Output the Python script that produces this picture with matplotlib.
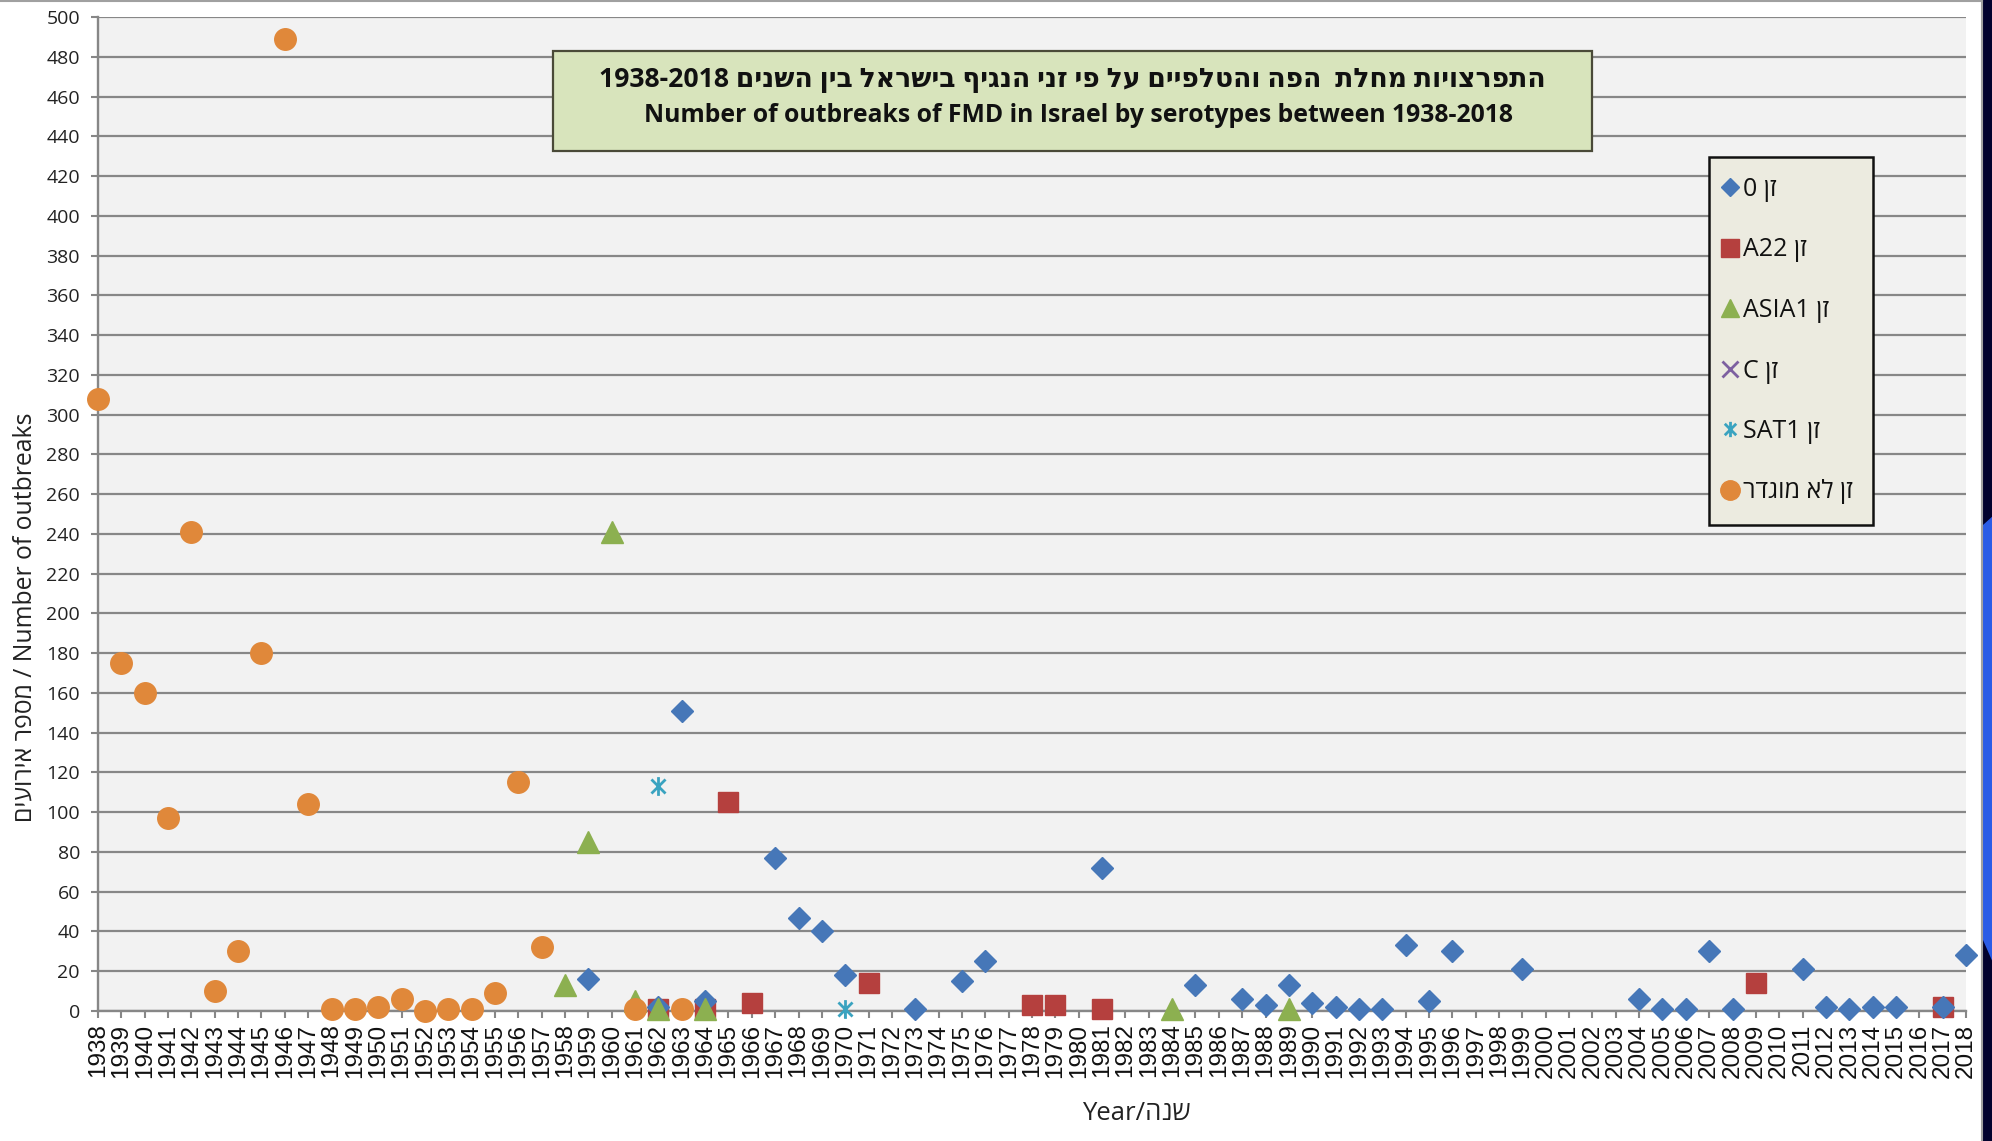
import matplotlib
matplotlib.use("Agg")
import matplotlib.pyplot as plt
from matplotlib.lines import Line2D
from matplotlib.patches import Rectangle, Polygon
from matplotlib.path import Path

# ---------------- data ----------------
years_axis = list(range(1938, 2019))

o_years = [1959, 1962, 1963, 1964, 1967, 1968, 1969, 1970, 1973, 1975, 1976, 1981, 1985,
           1987, 1988, 1989, 1990, 1991, 1992, 1993, 1994, 1995, 1996, 1999, 2004, 2005,
           2006, 2007, 2008, 2011, 2012, 2013, 2014, 2015, 2017, 2018]
o_vals = [16, 2, 151, 5, 77, 47, 40, 18, 1, 15, 25, 72, 13,
          6, 3, 13, 4, 2, 1, 1, 33, 5, 30, 21, 6, 1,
          1, 30, 1, 21, 2, 1, 2, 2, 2, 28]

a22_years = [1962, 1964, 1965, 1966, 1971, 1978, 1979, 1981, 2009, 2017]
a22_vals = [1, 1, 105, 4, 14, 3, 3, 1, 14, 2]

asia1_years = [1958, 1959, 1960, 1961, 1962, 1964, 1984, 1989]
asia1_vals = [13, 85, 241, 5, 1, 1, 1, 1]

c_years = []
c_vals = []

sat1_years = [1962, 1963, 1970]
sat1_vals = [113, 1, 1]

undef_years = [1938, 1939, 1940, 1941, 1942, 1943, 1944, 1945, 1946, 1947, 1948, 1949,
               1950, 1951, 1952, 1953, 1954, 1955, 1956, 1957, 1961, 1963]
undef_vals = [308, 175, 160, 97, 241, 10, 30, 180, 489, 104, 1, 1,
              2, 6, 0, 1, 1, 9, 115, 32, 1, 1]

series_labels = ["זן 0", "זן A22", "זן ASIA1", "זן C", "זן SAT1", "זן לא מוגדר"]
title_he = "התפרצויות מחלת  הפה והטלפיים על פי זני הנגיף בישראל בין השנים 1938-2018"
title_en = "Number of outbreaks of FMD in Israel by serotypes between 1938-2018"
ylabel_he = "מספר אירועים"
ylabel_en = "Number of outbreaks"
xlabel_he = "שנה"
xlabel_en = "Year"


def is_heb(t):
    return any('\u0590' <= ch <= '\u05ff' for ch in t)


def rtl(s):
    toks = s.split(' ')
    return ' '.join(t[::-1] if is_heb(t) else t for t in reversed(toks))


# ---------------- style ----------------
W, H = 1992, 1141
FAM = ['Open Sans', 'DejaVu Sans']
plt.rcParams['font.family'] = FAM

C_O = '#4677b8'
C_A22 = '#b5403e'
C_ASIA = '#8cb050'
C_C = '#7d60a0'
C_SAT = '#3aa3c0'
C_UND = '#e0883a'
GRID = '#878787'

star = Path([(0, -1), (0, 1), (-0.75, -0.75), (0.75, 0.75), (-0.75, 0.75), (0.75, -0.75)],
            [Path.MOVETO, Path.LINETO, Path.MOVETO, Path.LINETO, Path.MOVETO, Path.LINETO])

fig = plt.figure(figsize=(W / 100, H / 100), dpi=100)
fig.patch.set_facecolor('white')

ax = fig.add_axes([98 / W, 1 - 1011 / H, (1966 - 98) / W, (1011 - 17) / H])
ax.set_facecolor('#f2f2f2')

mk = dict(linestyle='none', clip_on=False)
ax.plot(o_years, o_vals, marker='D', ms=10.8, color=C_O, mec=C_O, zorder=4.5, **mk)
ax.plot(a22_years, a22_vals, marker='s', ms=15, color=C_A22, mec=C_A22, zorder=4, **mk)
ax.plot(asia1_years, asia1_vals, marker='^', ms=15.5, color=C_ASIA, mec=C_ASIA, zorder=5, **mk)
ax.plot(c_years, c_vals, marker='x', ms=12, color=C_C, mew=2, zorder=6, **mk)
ax.plot(sat1_years, sat1_vals, marker=star, ms=13.5, color=C_SAT, mew=2, zorder=7, **mk)
ax.plot(undef_years, undef_vals, marker='o', ms=15.5, color=C_UND, mec=C_UND, zorder=8, **mk)

ax.set_xlim(1938, 2018)
ax.set_ylim(0, 500)
ax.set_yticks(range(0, 501, 20))
ax.set_xticks(years_axis)
ax.set_xticklabels([str(y) for y in years_axis], rotation=90, fontsize=17.5,
                   family=['Liberation Sans', 'DejaVu Sans'], color='#111111')
ax.tick_params(axis='y', labelsize=14, labelcolor='#222222', length=5, width=1.5,
               color=GRID, pad=8)
ax.tick_params(axis='x', length=5, width=1.5, color=GRID, pad=4)
ax.grid(axis='y', color=GRID, linewidth=1.6, zorder=0)
ax.set_axisbelow(True)
for s in ['top', 'right']:
    ax.spines[s].set_visible(False)
for s in ['left', 'bottom']:
    ax.spines[s].set_color(GRID)
    ax.spines[s].set_linewidth(1.7)

# axis labels
fig.text(25 / W, 1 - 617 / H, rtl(ylabel_he) + " / " + ylabel_en, rotation=90,
         ha='center', va='center', fontsize=17.8, color='#222222')
fig.text(1136 / W, 1 - 1113 / H, xlabel_en + "/" + xlabel_he[::-1],
         ha='center', va='center', fontsize=18.5, color='#222222')

# title box
fig.patches.append(Rectangle((553 / W, 1 - 151 / H), (1592 - 553) / W, 100 / H,
                             transform=fig.transFigure, facecolor='#d8e4bc',
                             edgecolor='#4a4a38', linewidth=1.6, zorder=10))
fig.text(1072 / W, 1 - 80 / H, rtl(title_he), ha='center', va='center',
         fontsize=19.2, fontweight='bold', color='#111111', zorder=11)
fig.text(1078 / W, 1 - 116 / H, title_en, ha='center', va='center',
         fontsize=17.8, fontweight='bold', color='#111111', zorder=11)

# legend
handles = [
    Line2D([], [], linestyle='none', marker='D', ms=9.5, color=C_O),
    Line2D([], [], linestyle='none', marker='s', ms=13, color=C_A22),
    Line2D([], [], linestyle='none', marker='^', ms=13, color=C_ASIA),
    Line2D([], [], linestyle='none', marker='x', ms=11, mew=2, color=C_C),
    Line2D([], [], linestyle='none', marker=star, ms=11, mew=2, color=C_SAT),
    Line2D([], [], linestyle='none', marker='o', ms=14, color=C_UND),
]
leg = fig.legend(handles, [rtl(s) for s in series_labels], loc='upper left',
                 bbox_to_anchor=(1709 / W, 1 - 157 / H), bbox_transform=fig.transFigure,
                 borderaxespad=0, frameon=True, fancybox=False,
                 labelspacing=1.42, handlelength=0.05, handletextpad=0.5,
                 borderpad=0.8, framealpha=1, prop={'family': FAM, 'size': 18})
leg.get_frame().set_facecolor('#ecebe0')
leg.get_frame().set_edgecolor('#111111')
leg.get_frame().set_linewidth(1.8)
for t in leg.get_texts():
    t.set_color('#111111')

# screenshot frame pieces
fig.lines.append(Line2D([0, 1982 / W], [1 - 1 / H, 1 - 1 / H], transform=fig.transFigure,
                        color='#a0a0a0', linewidth=1.5))
fig.lines.append(Line2D([1982 / W, 1982 / W], [0, 1], transform=fig.transFigure,
                        color='#a0a0a0', linewidth=1.5))
fig.patches.append(Rectangle((1983 / W, 0), 9 / W, 1, transform=fig.transFigure,
                             facecolor='#02022e', edgecolor='none'))
fig.patches.append(Polygon([(1983 / W, 1 - 525 / H), (1 + 0.001, 1 - 515 / H),
                            (1 + 0.001, 1 - 965 / H), (1983 / W, 1 - 940 / H)],
                           closed=True, transform=fig.transFigure,
                           facecolor='#2b5ce6', edgecolor='none'))

fig.savefig('out.png', dpi=100, facecolor='white')
